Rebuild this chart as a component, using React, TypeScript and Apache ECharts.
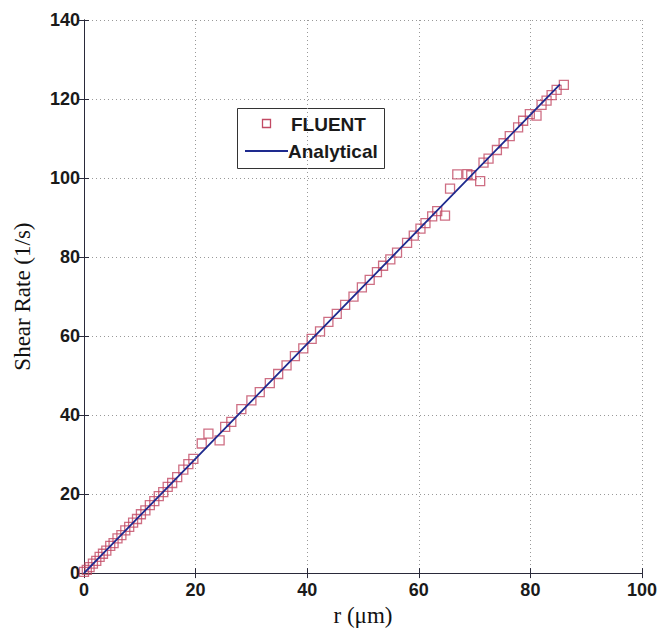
import React, { useEffect, useRef } from "react";
import * as echarts from "echarts";

const fluentR = [0, 0.5, 1, 1.6, 2.2, 2.8, 3.4, 4, 4.7, 5.3, 6, 6.7, 7.4, 8.1, 8.8, 9.5, 10.2, 11, 11.8, 12.6, 13.4, 14.2, 15, 15.8, 16.7, 17.8, 18.7, 19.6, 21.1, 22.3, 24.3, 25.3, 26.4, 28.2, 30, 31.5, 33.3, 34.8, 36.3, 37.8, 39.3, 40.8, 42.3, 43.8, 45.3, 46.8, 48.3, 49.8, 51.2, 52.5, 53.6, 54.9, 56.1, 57.9, 59.1, 60.3, 61.2, 62.4, 63.3, 64.7, 65.6, 66.9, 68.7, 69.4, 71, 71.6, 72.5, 74, 75.2, 76.3, 77.8, 78.7, 79.9, 81.1, 82, 82.9, 83.8, 84.7, 86];
const fluentRate = [0.3, 0.8, 1.5, 2.4, 3.1, 4.1, 4.9, 5.7, 6.9, 7.6, 8.8, 9.6, 10.8, 11.7, 12.8, 13.7, 14.9, 15.9, 17.2, 18.2, 19.5, 20.5, 21.8, 22.8, 24.3, 26.2, 27.6, 28.9, 32.8, 35.3, 33.6, 37.0, 38.3, 41.5, 43.7, 45.8, 48.1, 50.4, 52.6, 54.9, 56.9, 59.3, 61.2, 63.6, 65.6, 67.9, 70.0, 72.3, 74.2, 76.2, 77.8, 79.4, 81.1, 83.6, 85.4, 87.2, 88.6, 90.3, 91.6, 90.5, 97.3, 100.9, 101.0, 100.7, 99.2, 103.9, 104.9, 107.1, 108.8, 110.6, 112.8, 114.5, 116.2, 115.8, 118.5, 119.6, 121.0, 122.3, 123.6];

const analyticalR = [0, 20, 40, 60, 85.3];
const analyticalRate = [0, 29.0, 58.0, 87.0, 123.7];

const xTickMax = 100;
const yTickMax = 140;
const legendNames = ["FLUENT", "Analytical"];

const SQ_COLOR = "#c24a64";
const LINE_COLOR = "#1e2a8e";
const AXIS_COLOR = "#2a2a3a";

export default function App() {
  const ref = useRef<HTMLDivElement>(null);
  useEffect(() => {
    if (!ref.current) return;
    const chart = echarts.init(ref.current, undefined, { renderer: "svg" });
    const fluent = fluentR.map((r, i) => [r, fluentRate[i]]);
    const analytical = analyticalR.map((r, i) => [r, analyticalRate[i]]);
    const labelStyle = {
      fontFamily: "Liberation Sans",
      fontSize: 18,
      fontWeight: "bold" as const,
      color: "#1a1a1a",
    };
    const common = {
      type: "value" as const,
      min: 0,
      interval: 20,
      axisLine: { show: true, lineStyle: { color: AXIS_COLOR, width: 1 } },
      axisTick: { show: true, inside: true, length: 5, lineStyle: { color: AXIS_COLOR } },
    };
    const grid = { show: true, lineStyle: { color: "#999", type: [1, 3], width: 1 } };
    const titleStyle = { fontFamily: "Liberation Serif", fontSize: 23, color: "#111" };
    chart.setOption({
      animation: false,
      backgroundColor: "#ffffff",
      grid: { left: 84, right: 18, top: 20, bottom: 57 },
      xAxis: [
        {
          ...common,
          max: xTickMax,
          position: "bottom",
          name: "r (\u03bcm)",
          nameLocation: "middle",
          nameGap: 20,
          nameTextStyle: { ...titleStyle, verticalAlign: "top" },
          axisLabel: { ...labelStyle, margin: 8 },
          splitLine: grid,
        },
        {
          ...common,
          max: xTickMax,
          position: "top",
          axisLabel: { show: false },
          splitLine: { show: false },
        },
      ],
      yAxis: [
        {
          ...common,
          max: yTickMax,
          position: "left",
          name: "Shear Rate (1/s)",
          nameLocation: "middle",
          nameGap: 50,
          nameTextStyle: titleStyle,
          axisLabel: { ...labelStyle, margin: 4 },
          splitLine: grid,
        },
        {
          ...common,
          max: yTickMax,
          position: "right",
          axisLabel: { show: false },
          splitLine: { show: false },
        },
      ],
      series: [
        {
          name: legendNames[0],
          type: "scatter",
          data: fluent,
          symbol: "rect",
          symbolSize: 9,
          itemStyle: { color: "transparent", borderColor: SQ_COLOR, borderWidth: 1.3 },
          z: 2,
        },
        {
          name: legendNames[1],
          type: "line",
          data: analytical,
          showSymbol: false,
          lineStyle: { color: LINE_COLOR, width: 1.8 },
          z: 3,
        },
      ],
      graphic: [
        {
          type: "group",
          z: 100,
          children: [
            {
              type: "rect",
              shape: { x: 237.5, y: 108.5, width: 147, height: 60 },
              style: { fill: "#fff", stroke: "#333", lineWidth: 1 },
            },
            {
              type: "rect",
              shape: { x: 262.5, y: 119.5, width: 8, height: 8 },
              style: { fill: "none", stroke: SQ_COLOR, lineWidth: 1.3 },
            },
            {
              type: "text",
              x: 291,
              y: 124,
              style: {
                text: legendNames[0],
                font: "bold 19px 'Liberation Sans'",
                fill: "#1a1a1a",
                verticalAlign: "middle",
              },
            },
            {
              type: "line",
              shape: { x1: 245, y1: 151, x2: 288, y2: 151 },
              style: { stroke: LINE_COLOR, lineWidth: 1.8 },
            },
            {
              type: "text",
              x: 288,
              y: 151,
              style: {
                text: legendNames[1],
                font: "bold 19px 'Liberation Sans'",
                fill: "#1a1a1a",
                verticalAlign: "middle",
              },
            },
          ],
        },
      ],
    });
    return () => chart.dispose();
  }, []);
  return <div ref={ref} style={{ width: 660, height: 632, position: "absolute", left: 0, top: 0 }} />;
}
